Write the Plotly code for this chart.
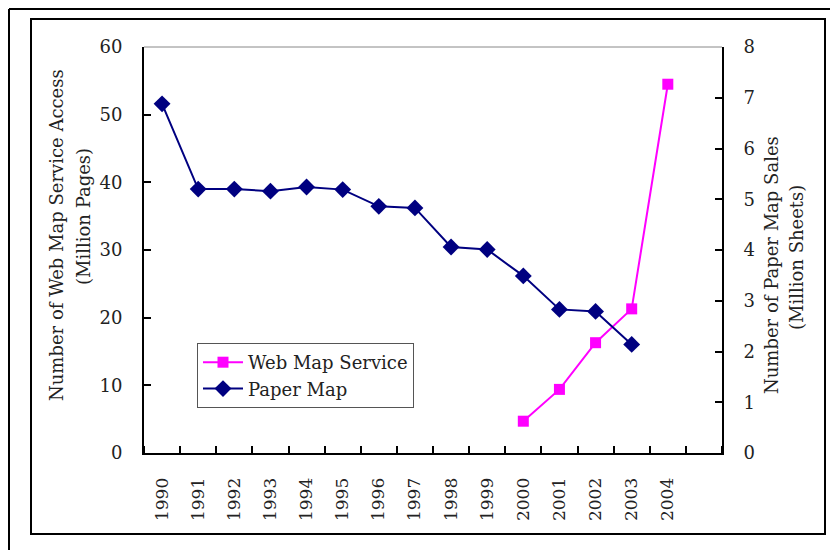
import plotly.graph_objects as go

years = [1990, 1991, 1992, 1993, 1994, 1995, 1996, 1997, 1998, 1999, 2000, 2001, 2002, 2003, 2004]
web_years = [2000, 2001, 2002, 2003, 2004]
web_map = [4.7, 9.4, 16.3, 21.3, 54.5]
paper_years = [1990, 1991, 1992, 1993, 1994, 1995, 1996, 1997, 1998, 1999, 2000, 2001, 2002, 2003]
paper_map = [6.88, 5.20, 5.20, 5.16, 5.24, 5.19, 4.86, 4.83, 4.06, 4.01, 3.49, 2.83, 2.79, 2.14]
left_ticks = [0, 10, 20, 30, 40, 50, 60]
right_ticks = [0, 1, 2, 3, 4, 5, 6, 7, 8]
left_title = ["Number of Web Map Service Access", "(Million Pages)"]
right_title = ["Number of Paper Map Sales", "(Million Sheets)"]

FONT = "DejaVu Serif"
OFF = 8  # page body margin
W, H = 838 - OFF, 550 - OFF
L, T = 144 - OFF, 47 - OFF
R = W - (722 - OFF)
B = H - (453 - OFF)
pw, ph = W - L - R, H - T - B

def px(x):
    return (x - OFF - L) / pw

def py(y):
    return (H - B - (y - OFF)) / ph

fig = go.Figure()
fig.add_trace(go.Scatter(
    x=web_years, y=web_map, name="Web Map Service", mode="lines+markers",
    line=dict(color="#FF00FF", width=2),
    marker=dict(symbol="square", size=11, color="#FF00FF"),
    yaxis="y"))
fig.add_trace(go.Scatter(
    x=paper_years, y=paper_map, name="Paper Map", mode="lines+markers",
    line=dict(color="#000080", width=2),
    marker=dict(symbol="diamond", size=13, color="#000080"),
    yaxis="y2"))

fig.update_layout(
    width=W, height=H,
    margin=dict(l=L, r=R, t=T, b=B, autoexpand=False),
    paper_bgcolor="white", plot_bgcolor="white",
    font=dict(family=FONT, size=17, color="#222222"),
    showlegend=True,
    legend=dict(x=px(197), y=py(343), xanchor="left", yanchor="top",
                bordercolor="#555555", borderwidth=1, bgcolor="white",
                font=dict(family=FONT, size=18, color="#222222"),
                itemwidth=40, tracegroupgap=0),
    xaxis=dict(range=[1989.5, 2005.5], tickmode="array", tickvals=years,
               ticktext=[str(y) for y in years], tickangle=-90, ticks="",
               showline=True, linecolor="black", linewidth=2, showgrid=False,
               zeroline=False, ticklabelstandoff=16,
               minor=dict(tickmode="linear", tick0=1989.5, dtick=1, ticks="inside",
                          ticklen=7, tickcolor="black", tickwidth=1.5, showgrid=False),
               tickfont=dict(family=FONT, size=17)),
    yaxis=dict(range=[0, 60], tickmode="array", tickvals=left_ticks,
               ticks="inside", ticklen=7, tickcolor="black", tickwidth=1.5,
               showline=True, linecolor="black", linewidth=2, showgrid=False,
               zeroline=False, ticklabelstandoff=16,
               tickfont=dict(family=FONT, size=18)),
    yaxis2=dict(range=[0, 8], overlaying="y", side="right", tickmode="array",
                tickvals=right_ticks, ticks="inside", ticklen=7, tickcolor="black",
                tickwidth=1.5, showline=True, linecolor="black", linewidth=2,
                showgrid=False, zeroline=False, ticklabelstandoff=16,
                tickfont=dict(family=FONT, size=18)),
)

title_pos = [
    (left_title[0], 56, 235), (left_title[1], 83, 217),
    (right_title[0], 771, 265), (right_title[1], 796, 258),
]
annotations = [
    dict(text=t, x=px(x), y=py(y), xref="paper", yref="paper", showarrow=False,
         textangle=-90, xanchor="center", yanchor="middle",
         font=dict(family=FONT, size=18, color="#222222"))
    for t, x, y in title_pos
]
fig.update_layout(annotations=annotations)

shapes = [
    dict(type="line", xref="paper", yref="paper", x0=0, x1=1, y0=1, y1=1,
         line=dict(color="#888888", width=1)),
    dict(type="rect", xref="paper", yref="paper", x0=px(31), x1=px(825),
         y0=py(534), y1=py(19), line=dict(color="black", width=2), layer="below"),
    dict(type="line", xref="paper", yref="paper", x0=px(9), x1=px(838),
         y0=py(9), y1=py(9), line=dict(color="black", width=2)),
    dict(type="line", xref="paper", yref="paper", x0=px(9), x1=px(9),
         y0=py(9), y1=py(550), line=dict(color="black", width=2)),
]
fig.update_layout(shapes=shapes)

fig.write_html("out.html")
